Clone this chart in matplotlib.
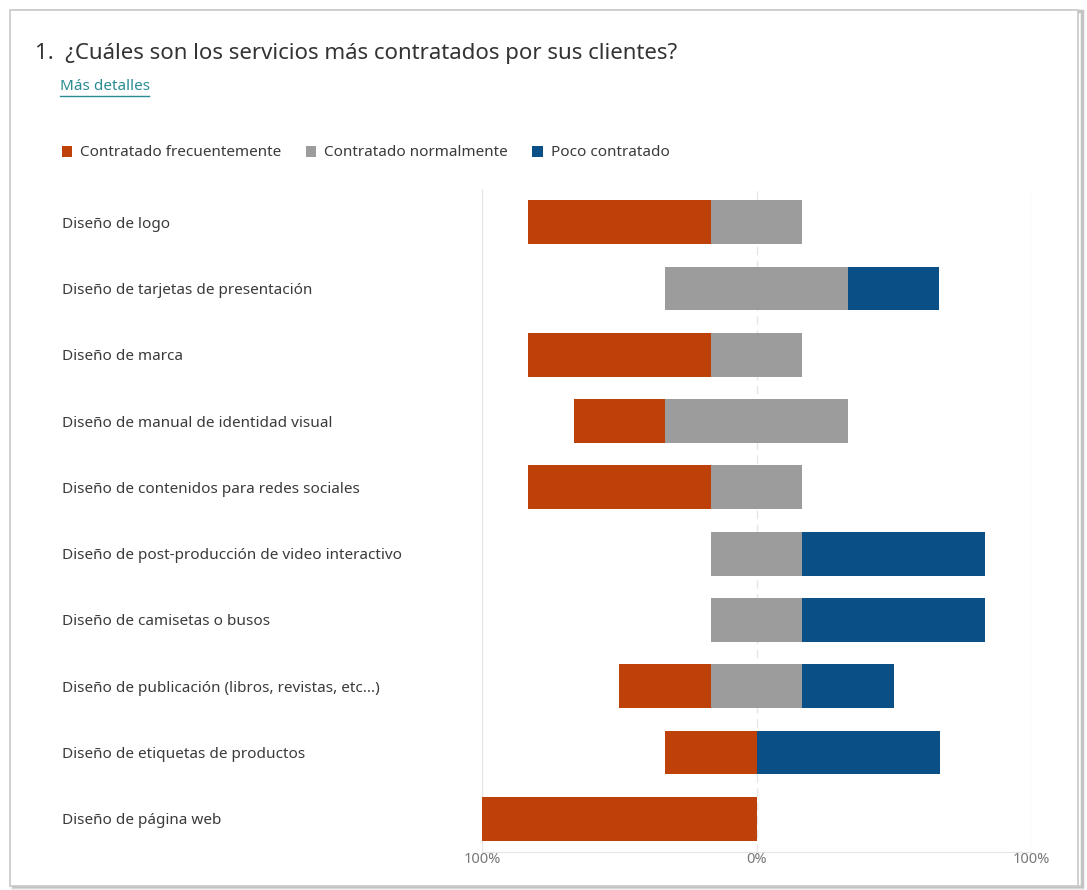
import numpy as np
import matplotlib.pyplot as plt
from matplotlib.patches import Rectangle, Patch

plt.rcParams['font.family'] = ['Noto Sans', 'DejaVu Sans']

# Survey answers, percent of respondents per service.
servicios = [
    'Diseño de logo',
    'Diseño de tarjetas de presentación',
    'Diseño de marca',
    'Diseño de manual de identidad visual',
    'Diseño de contenidos para redes sociales',
    'Diseño de post-producción de video interactivo',
    'Diseño de camisetas o busos',
    'Diseño de publicación (libros, revistas, etc...)',
    'Diseño de etiquetas de productos',
    'Diseño de página web',
]
frecuente = [66.7, 0, 66.7, 33.3, 66.7, 0, 0, 33.3, 33.3, 100]
normal = [33.3, 66.7, 33.3, 66.7, 33.3, 33.3, 33.3, 33.3, 0, 0]
poco = [0, 33.3, 0, 0, 0, 66.7, 66.7, 33.3, 66.7, 0]

series = ['Contratado frecuentemente', 'Contratado normalmente', 'Poco contratado']
colores = ['#bf410a', '#9c9c9c', '#0b4f87']
tick_vals = [-100, 0, 100]
tick_txt = ['100%', '0%', '100%']

W, H = 1087, 890
fig = plt.figure(figsize=(W / 100, H / 100), dpi=100)

# card outline with a soft shadow on the right
for i, a in enumerate([0.05, 0.08, 0.12]):
    fig.patches.append(Rectangle(((12 + i) / W, (H - 888 + i) / H), (1070 - i) / W, (877 - i) / H,
                                 transform=fig.transFigure, facecolor='none',
                                 edgecolor=(0, 0, 0, a), lw=2.5, zorder=0))
fig.patches.append(Rectangle((10 / W, (H - 886) / H), 1068 / W, 876 / H,
                             transform=fig.transFigure, facecolor='white',
                             edgecolor='#c8c8c8', lw=1.2, zorder=0.5))

ax = fig.add_axes([482 / W, (H - 852) / H, (1031 - 482) / W, (852 - 189) / H])
ax.set_zorder(2)
ax.patch.set_alpha(0)

y = np.arange(len(servicios))
frecuente = np.array(frecuente)
normal = np.array(normal)
poco = np.array(poco)

# neutral block centred on 0, the others stacked outward
left_norm = -normal / 2
left_frec = left_norm - frecuente
left_poco = normal / 2
h = 0.66
ax.barh(y, frecuente, left=left_frec, height=h, color=colores[0], zorder=3)
ax.barh(y, normal, left=left_norm, height=h, color=colores[1], zorder=3)
ax.barh(y, poco, left=left_poco, height=h, color=colores[2], zorder=3)

ax.set_xlim(-100, 100)
ax.set_ylim(len(servicios) - 0.5, -0.5)

ax.axvline(-100, color='#e6e6e6', lw=1, zorder=1)
ax.axvline(100, color='#e6e6e6', lw=1, zorder=1)
ax.axvline(0, color='#e6e6e6', lw=1, ls=(0, (6, 4)), zorder=1)

for s in ['top', 'right', 'left']:
    ax.spines[s].set_visible(False)
ax.spines['bottom'].set_color('#e6e6e6')

ax.set_xticks(tick_vals)
ax.set_xticklabels(tick_txt, color='#777777', fontsize=10.5)
ax.tick_params(axis='x', length=0, pad=0)

ax.set_yticks(y)
ax.set_yticklabels(servicios, ha='left', color='#3a3a3a', fontsize=11)
ax.tick_params(axis='y', length=0, pad=(482 - 62) * 0.72)

fig.text(35 / W, 1 - 53 / H, '1.  ¿Cuáles son los servicios más contratados por sus clientes?',
         fontsize=16, color='#333333', va='center', ha='left')
fig.text(60 / W, 1 - 87 / H, 'Más detalles', fontsize=11, color='#2a8c91',
         va='center', ha='left')
fig.add_artist(plt.Line2D([60 / W, 149 / W], [1 - 96 / H, 1 - 96 / H],
                          color='#2a8c91', lw=1))

handles = [Patch(facecolor=c) for c in colores]
fig.legend(handles, series, loc='center left', bbox_to_anchor=(48 / W, 1 - 153 / H),
           ncol=3, frameon=False, fontsize=11, handlelength=0.7, handleheight=0.7,
           handletextpad=0.5, columnspacing=1.6, labelcolor='#3a3a3a')

fig.savefig('out.png', dpi=100, facecolor='white')
